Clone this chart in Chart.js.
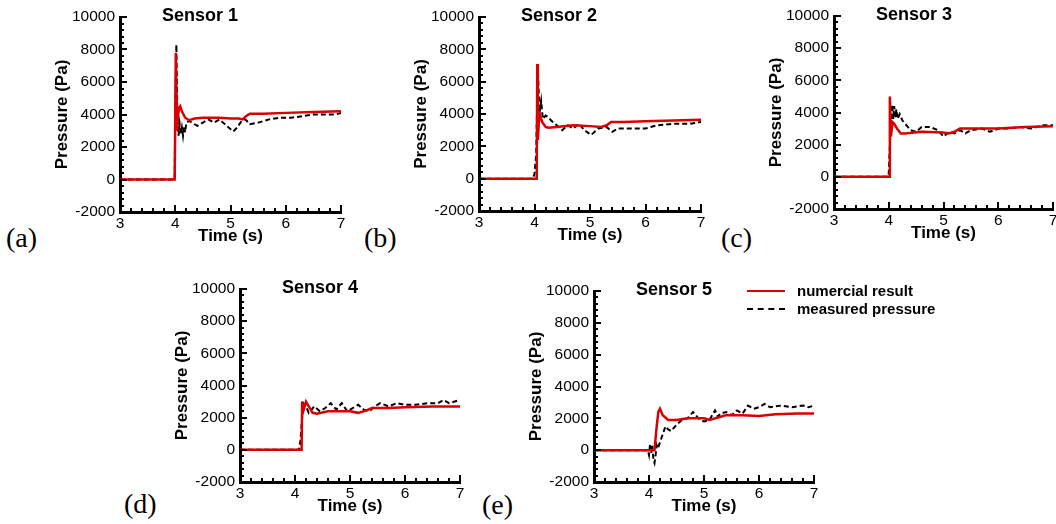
<!DOCTYPE html>
<html>
<head>
<meta charset="utf-8">
<script src="https://cdn.jsdelivr.net/npm/chart.js@4.4.1/dist/chart.umd.min.js"></script>
<style>
body { margin:0; width:1056px; height:524px; background:#fff; overflow:hidden; position:relative; font-family:Arial, "Liberation Sans", sans-serif; }
.panel { position:absolute; }
.lab { position:absolute; font-family:"Liberation Serif","Times New Roman",serif; font-size:28px; line-height:32px; color:#000; }
.legline { position:absolute; width:38px; }
.legtext { position:absolute; font-weight:bold; font-size:15px; line-height:18px; color:#000; }
</style>
</head>
<body>
<div class="panel" id="p1"><canvas id="c1"></canvas></div>
<div class="panel" id="p2"><canvas id="c2"></canvas></div>
<div class="panel" id="p3"><canvas id="c3"></canvas></div>
<div class="panel" id="p4"><canvas id="c4"></canvas></div>
<div class="panel" id="p5"><canvas id="c5"></canvas></div>

<div class="lab" style="left:6px;top:222px">(a)</div>
<div class="lab" style="left:364px;top:222px">(b)</div>
<div class="lab" style="left:721px;top:222px">(c)</div>
<div class="lab" style="left:124px;top:488px">(d)</div>
<div class="lab" style="left:482px;top:489px">(e)</div>

<div class="legline" style="left:747px;top:290px;border-top:2.5px solid #d80000"></div>
<div class="legtext" style="left:797px;top:282px">numercial result</div>
<div class="legline" style="left:747px;top:308px;border-top:2px dashed #000"></div>
<div class="legtext" style="left:797px;top:300px">measured pressure</div>

<script>
// axes
var xMin = 3, xMax = 7, xStep = 1, xMinor = 0.2;
var yMin = -2000, yMax = 10000, yStep = 2000, yMinor = 400;

var sensorNames = ['Sensor 1', 'Sensor 2', 'Sensor 3', 'Sensor 4', 'Sensor 5'];
var seriesNames = ['numercial result', 'measured pressure'];

// Sensor 1
var s1NumT = [3, 3.99, 4.01, 4.02, 4.035, 4.05, 4.07, 4.09, 4.12, 4.18, 4.25, 4.35, 4.5, 4.8, 5.0, 5.15, 5.22, 5.28, 5.35, 5.6, 6.0, 6.5, 7];
var s1NumP = [0, 0, 7800, 6000, 3000, 3900, 4400, 4500, 4200, 3800, 3650, 3750, 3800, 3800, 3750, 3750, 3700, 3900, 4050, 4050, 4100, 4150, 4200];
var s1MeasT = [3, 3.99, 4.0, 4.02, 4.04, 4.06, 4.08, 4.1, 4.12, 4.14, 4.16, 4.18, 4.2, 4.25, 4.3, 4.4, 4.5, 4.6, 4.7, 4.8, 4.9, 5.0, 5.05, 5.12, 5.2, 5.27, 5.35, 5.5, 5.7, 5.9, 6.1, 6.3, 6.5, 6.7, 6.9, 7];
var s1MeasP = [0, 0, 4000, 8300, 3600, 2700, 3400, 2800, 3200, 2700, 3300, 2900, 3500, 3600, 3500, 3300, 3500, 3700, 3500, 3700, 3400, 3100, 2950, 3200, 3600, 3700, 3400, 3500, 3700, 3800, 3800, 3900, 4000, 4000, 4000, 4100];

// Sensor 2
var s2NumT = [3, 4.04, 4.05, 4.06, 4.08, 4.1, 4.14, 4.2, 4.25, 4.4, 4.7, 5.0, 5.2, 5.3, 5.38, 5.6, 6.0, 6.5, 7];
var s2NumP = [0, 0, 7100, 2400, 3600, 3900, 3500, 3200, 3150, 3200, 3300, 3250, 3200, 3300, 3500, 3500, 3550, 3600, 3650];
var s2MeasT = [3, 3.97, 4.0, 4.03, 4.06, 4.08, 4.1, 4.12, 4.15, 4.2, 4.25, 4.3, 4.4, 4.5, 4.6, 4.7, 4.8, 4.9, 5.02, 5.15, 5.3, 5.4, 5.5, 5.7, 6.0, 6.2, 6.5, 6.8, 7];
var s2MeasP = [0, 0, 300, 1500, 6800, 5000, 4300, 4800, 3700, 3900, 3800, 3600, 3300, 3000, 3300, 3100, 3400, 3000, 2700, 3100, 3200, 2900, 3100, 3100, 3100, 3300, 3400, 3400, 3500];

// Sensor 3
var s3NumT = [3, 4.01, 4.02, 4.04, 4.07, 4.1, 4.15, 4.22, 4.3, 4.6, 5.0, 5.1, 5.2, 5.3, 5.5, 6.0, 6.5, 7];
var s3NumP = [0, 0, 5000, 2500, 3400, 3300, 3000, 2700, 2700, 2800, 2750, 2700, 2800, 3000, 3000, 3000, 3100, 3150];
var s3MeasT = [3, 3.98, 4.0, 4.04, 4.06, 4.08, 4.1, 4.12, 4.14, 4.16, 4.2, 4.25, 4.3, 4.4, 4.5, 4.6, 4.75, 4.9, 5.0, 5.1, 5.2, 5.3, 5.4, 5.5, 5.7, 5.85, 6.0, 6.2, 6.4, 6.6, 6.8, 7];
var s3MeasP = [0, 0, 200, 3500, 4500, 3600, 4400, 3700, 4200, 3600, 3900, 3500, 3300, 2900, 2800, 3100, 3100, 2900, 2500, 2800, 2700, 2900, 2700, 2900, 3000, 2800, 3000, 3000, 3100, 3000, 3200, 3200];

// Sensor 4
var s4NumT = [3, 4.12, 4.13, 4.15, 4.2, 4.25, 4.32, 4.4, 4.6, 5.0, 5.15, 5.3, 5.4, 5.7, 6.0, 6.5, 7];
var s4NumP = [0, 0, 3000, 2400, 3000, 2700, 2300, 2250, 2400, 2400, 2300, 2450, 2600, 2600, 2650, 2700, 2700];
var s4MeasT = [3, 4.07, 4.1, 4.15, 4.2, 4.25, 4.35, 4.45, 4.55, 4.65, 4.75, 4.85, 4.95, 5.05, 5.15, 5.25, 5.35, 5.45, 5.55, 5.7, 5.85, 6.0, 6.2, 6.4, 6.6, 6.7, 6.8, 7];
var s4MeasP = [0, 0, 600, 2900, 2700, 2300, 2700, 2400, 2600, 2900, 2500, 2900, 2400, 2600, 2800, 2500, 2400, 2700, 2900, 2700, 2900, 2800, 2800, 2900, 2900, 3100, 2900, 3100];

// Sensor 5
var s5NumT = [3, 4.1, 4.14, 4.17, 4.2, 4.25, 4.35, 4.5, 4.7, 5.0, 5.1, 5.2, 5.3, 5.4, 5.7, 6.0, 6.3, 6.7, 7];
var s5NumP = [0, 0, 1500, 2400, 2600, 2200, 1900, 1900, 2000, 2000, 1900, 2000, 2100, 2200, 2200, 2150, 2250, 2300, 2300];
var s5MeasT = [3, 3.98, 4.0, 4.02, 4.04, 4.06, 4.08, 4.1, 4.12, 4.14, 4.16, 4.2, 4.25, 4.3, 4.35, 4.4, 4.5, 4.6, 4.7, 4.8, 4.9, 5.0, 5.1, 5.2, 5.25, 5.3, 5.4, 5.5, 5.6, 5.7, 5.8, 5.9, 6.0, 6.1, 6.2, 6.4, 6.6, 6.8, 6.9, 7];
var s5MeasP = [0, 0, -300, 400, -200, 300, -600, -800, -300, 300, 100, 500, 1000, 1500, 1300, 1200, 1600, 1900, 2000, 2400, 2000, 1800, 1900, 2500, 2100, 2300, 2400, 2200, 2500, 2300, 2800, 2600, 2700, 2900, 2700, 2800, 2700, 2800, 2700, 2800];

// where each plot area sits on the page: left, top, right, bottom
var boxes = [
	[120, 17, 341, 212],
	[479, 17, 701, 211],
	[834, 16, 1053, 209],
	[240, 289, 460, 482],
	[594, 291, 814, 482]
];

var YW = 68, XH = 35, PADT = 16, PADR = 10;

function pts(t, p) {
	return t.map(function(v, i) { return {x: v, y: p[i]}; });
}

// inward tick marks + sensor title
var panelDecor = {
	id: 'panelDecor',
	afterDraw: function(chart, args, opts) {
		var ctx = chart.ctx;
		var sx = chart.scales.x, sy = chart.scales.y;
		var a = chart.chartArea;

		ctx.save();
		ctx.fillStyle = '#000';
		var nx = Math.round((xMax - xMin) / xMinor);
		var every = Math.round(xStep / xMinor);
		for (var i = 0; i <= nx; i++) {
			var px = Math.round(sx.getPixelForValue(xMin + i * xMinor));
			var len = (i % every === 0) ? 7 : 4;
			ctx.fillRect(px - 1, a.bottom - len, 2, len);
		}
		var ny = Math.round((yMax - yMin) / yMinor);
		var everyY = Math.round(yStep / yMinor);
		for (var j = 0; j <= ny; j++) {
			var py = Math.round(sy.getPixelForValue(yMin + j * yMinor));
			var len2 = (j % everyY === 0) ? 7 : 4;
			ctx.fillRect(a.left, py - 1, len2, 2);
		}

		ctx.font = 'bold 18px Arial';
		ctx.textAlign = 'center';
		ctx.textBaseline = 'middle';
		ctx.fillText(opts.text, a.left + 80, a.top - 1);
		ctx.restore();
	}
};

function plain(v) { return String(v); }

function makePanel(n, numT, numP, measT, measP) {
	var b = boxes[n - 1];
	var W = (b[2] - b[0]) + YW + PADR;
	var H = (b[3] - b[1]) + PADT + XH;
	var div = document.getElementById('p' + n);
	div.style.left = (b[0] - YW) + 'px';
	div.style.top = (b[1] - PADT) + 'px';
	var cv = document.getElementById('c' + n);
	cv.width = W; cv.height = H;
	cv.style.width = W + 'px'; cv.style.height = H + 'px';

	return new Chart(cv, {
		type: 'line',
		data: {
			datasets: [{
				label: seriesNames[0],
				data: pts(numT, numP),
				borderColor: '#d80000',
				backgroundColor: '#d80000',
				borderWidth: 2.5,
				pointRadius: 0,
				fill: false,
				tension: 0
			},
			{
				label: seriesNames[1],
				data: pts(measT, measP),
				borderColor: '#000',
				backgroundColor: '#000',
				borderWidth: 2,
				borderDash: [5, 3],
				pointRadius: 0,
				fill: false,
				tension: 0
			}]
		},
		options: {
			responsive: false,
			animation: false,
			devicePixelRatio: 1,
			layout: { padding: { top: PADT, right: PADR, left: 0, bottom: 0 } },
			plugins: {
				legend: { display: false },
				tooltip: { enabled: false },
				panelDecor: { text: sensorNames[n - 1] }
			},
			scales: {
				x: {
					type: 'linear',
					min: xMin, max: xMax,
					grid: { display: false, drawTicks: false },
					border: { display: true, color: '#000', width: 3 },
					ticks: { stepSize: xStep, color: '#000', padding: 2, maxRotation: 0, autoSkip: false, callback: plain, font: { family: 'Arial', size: 15.5 } },
					title: { display: true, text: 'Time (s)', color: '#000', padding: 0, font: { family: 'Arial', size: 17, weight: 'bold' } },
					afterFit: function(s) { s.height = XH; }
				},
				y: {
					min: yMin, max: yMax,
					grid: { display: false, drawTicks: false },
					border: { display: true, color: '#000', width: 3 },
					ticks: { stepSize: yStep, color: '#000', padding: 5, autoSkip: false, callback: plain, font: { family: 'Arial', size: 15.5 } },
					title: { display: true, text: 'Pressure (Pa)', color: '#000', padding: 0, font: { family: 'Arial', size: 17, weight: 'bold' } },
					afterFit: function(s) { s.width = YW; }
				}
			}
		},
		plugins: [panelDecor]
	});
}

makePanel(1, s1NumT, s1NumP, s1MeasT, s1MeasP);
makePanel(2, s2NumT, s2NumP, s2MeasT, s2MeasP);
makePanel(3, s3NumT, s3NumP, s3MeasT, s3MeasP);
makePanel(4, s4NumT, s4NumP, s4MeasT, s4MeasP);
makePanel(5, s5NumT, s5NumP, s5MeasT, s5MeasP);
</script>
</body>
</html>
